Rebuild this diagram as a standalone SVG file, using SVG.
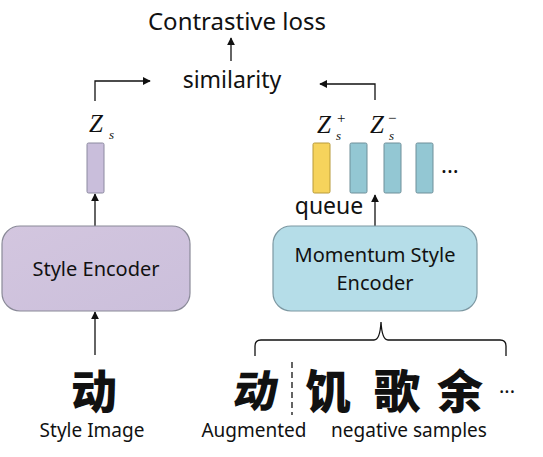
<svg xmlns="http://www.w3.org/2000/svg" width="543" height="457" viewBox="0 0 543 457">
<defs>
<style>
.lbl{font-family:"Noto Sans","Open Sans",sans-serif;fill:#111}
.z{font-family:"Liberation Serif",serif;font-style:italic;fill:#111}
.sup{font-family:"Liberation Serif",serif;fill:#111}
.cjk{font-family:"Noto Sans CJK SC",sans-serif;font-weight:900;fill:#111}
.ln{stroke:#111;stroke-width:1.3;fill:none}
.bar{stroke-width:1}
</style>
<marker id="ah" viewBox="0 0 10 10" refX="9" refY="5" markerWidth="8" markerHeight="8" orient="auto" markerUnits="userSpaceOnUse">
<path d="M0,0 L10,5 L0,10 z" fill="#111"/>
</marker>
<linearGradient id="gp" x1="0" y1="0" x2="1" y2="1">
<stop offset="0" stop-color="#d3c6df"/><stop offset="1" stop-color="#cbbfdb"/>
</linearGradient>
</defs>
<g id="connectors">
<line class="ln" x1="231" y1="61" x2="231" y2="38" marker-end="url(#ah)"/>
<polyline class="ln" points="95,101 95,81 150,81" marker-end="url(#ah)"/>
<polyline class="ln" points="375,100 375,84 320,84" marker-end="url(#ah)"/>
<line class="ln" x1="95" y1="226" x2="95" y2="194" marker-end="url(#ah)"/>
<line class="ln" x1="95" y1="355" x2="95" y2="312" marker-end="url(#ah)"/>
<line class="ln" x1="375" y1="226" x2="375" y2="195" marker-end="url(#ah)"/>
<path class="ln" d="M255,356 L255,346 Q255,340 261,340 L374,340 Q380,340 381,322 Q382,340 388,340 L500,340 Q506,340 506,346 L506,356"/>
<line x1="292" y1="362" x2="292" y2="415" stroke="#111" stroke-width="1.3" stroke-dasharray="6,4"/>
</g>
<g id="contrastive-loss"><text class="lbl" x="237" y="30" font-size="24" text-anchor="middle">Contrastive loss</text></g>
<g id="similarity"><text class="lbl" x="232" y="88" font-size="23" text-anchor="middle">similarity</text></g>
<g id="zs-left">
<text class="z" x="89" y="132" font-size="25">Z</text><text class="z" x="109" y="139" font-size="13">s</text>
<rect class="bar" x="87" y="143" width="17" height="50" rx="1.5" fill="#c9bedb" stroke="#8c8aa0"/>
</g>
<g id="style-encoder">
<rect x="2" y="226" width="188" height="85" rx="18" fill="url(#gp)" stroke="#8a8a98" stroke-width="1.2"/>
<text class="lbl" x="96" y="276" font-size="20" text-anchor="middle">Style Encoder</text>
</g>
<g id="momentum-encoder">
<rect x="273" y="226" width="204" height="85" rx="18" fill="#b5dde8" stroke="#7d98a2" stroke-width="1.2"/>
<text class="lbl" x="375" y="262" font-size="20" text-anchor="middle">Momentum Style</text>
<text class="lbl" x="375" y="290" font-size="20" text-anchor="middle">Encoder</text>
</g>
<g id="queue">
<text class="lbl" x="329" y="214" font-size="23" text-anchor="middle">queue</text>
<text class="z" x="317" y="133" font-size="25">Z</text><text class="z" x="336" y="140" font-size="13">s</text><text class="sup" x="337" y="123" font-size="15">+</text>
<text class="z" x="370" y="133" font-size="25">Z</text><text class="z" x="389" y="140" font-size="13">s</text><text class="sup" x="388" y="123" font-size="15">−</text>
<rect class="bar" x="313" y="143" width="17" height="50" rx="1.5" fill="#f6d35c" stroke="#b89a3a"/>
<rect class="bar" x="350" y="143" width="17" height="50" rx="1.5" fill="#93c7d3" stroke="#6f8f99"/>
<rect class="bar" x="384" y="143" width="17" height="50" rx="1.5" fill="#93c7d3" stroke="#6f8f99"/>
<rect class="bar" x="416" y="143" width="17" height="50" rx="1.5" fill="#93c7d3" stroke="#6f8f99"/>
<text class="lbl" x="441" y="173" font-size="22">...</text>
</g>
<g id="style-image">
<text class="cjk" x="94" y="408" font-size="46" text-anchor="middle">动</text>
<text class="lbl" x="92" y="437" font-size="19" text-anchor="middle">Style Image</text>
</g>
<g id="augmented">
<text class="cjk" x="253" y="407" font-size="44" text-anchor="middle" transform="skewX(-10) translate(72,0)">动</text>
<text class="lbl" x="254" y="437" font-size="19" text-anchor="middle">Augmented</text>
</g>
<g id="negative-samples">
<text class="cjk" x="328" y="408" font-size="46" text-anchor="middle">饥</text>
<text class="cjk" x="397" y="408" font-size="46" text-anchor="middle">歌</text>
<text class="cjk" x="460" y="408" font-size="46" text-anchor="middle">余</text>
<text class="lbl" x="499" y="393" font-size="20">...</text>
<text class="lbl" x="409" y="437" font-size="19" text-anchor="middle">negative samples</text>
</g>
</svg>
